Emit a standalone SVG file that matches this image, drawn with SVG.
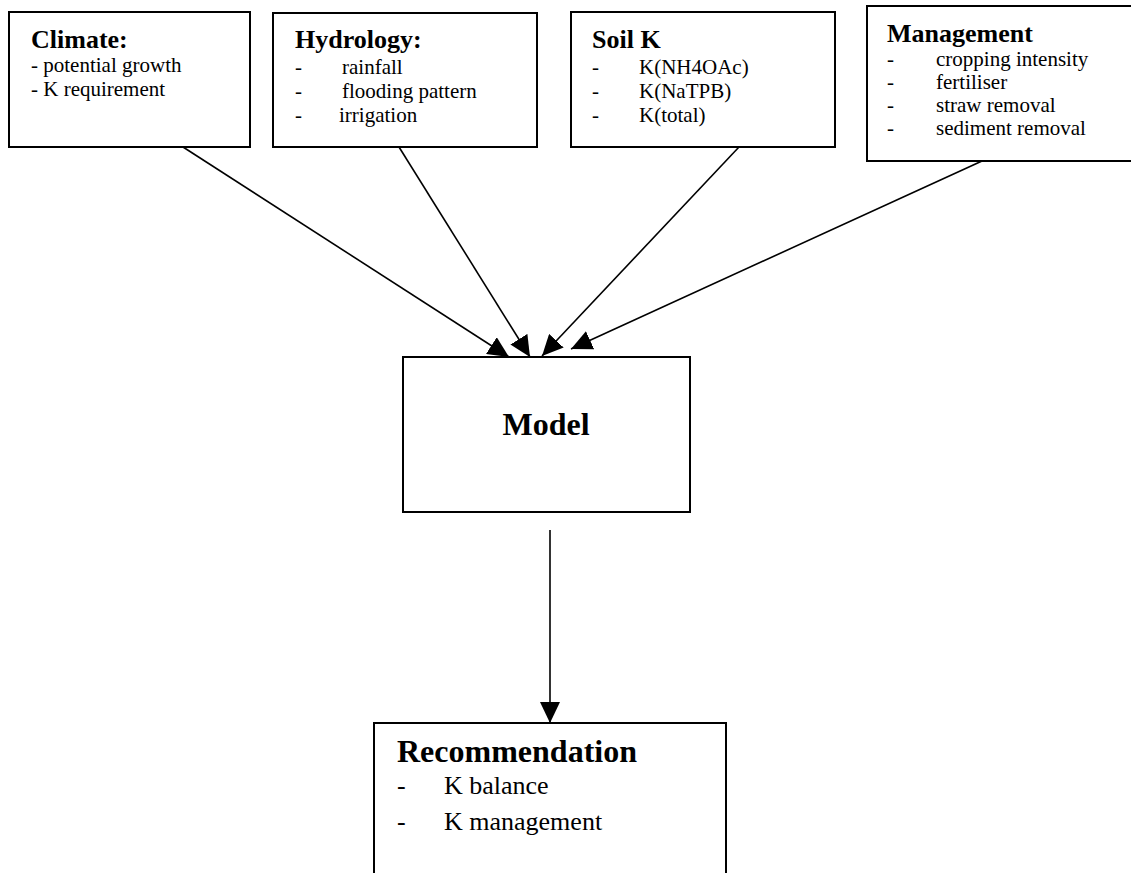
<svg xmlns="http://www.w3.org/2000/svg" width="1131" height="873" viewBox="0 0 1131 873">
  <style>
    .box { fill: #ffffff; stroke: #000000; stroke-width: 2; }
    .head { font-family: "Liberation Serif", "Times New Roman", serif; font-weight: bold; font-size: 26px; fill: #000; }
    .big { font-family: "Liberation Serif", "Times New Roman", serif; font-weight: bold; font-size: 32px; fill: #000; }
    .item { font-family: "Liberation Serif", "Times New Roman", serif; font-size: 21px; fill: #000; }
    .item2 { font-family: "Liberation Serif", "Times New Roman", serif; font-size: 26px; fill: #000; }
    .link { stroke: #000000; stroke-width: 1.6; fill: none; marker-end: url(#arrow); }
  </style>
  <defs>
    <marker id="arrow" markerUnits="userSpaceOnUse" markerWidth="22" markerHeight="20" refX="21" refY="10" orient="auto">
      <path d="M0,0 L21,10 L0,20 z" fill="#000000"/>
    </marker>
  </defs>
  <rect width="1131" height="873" fill="#ffffff"/>

  <!-- input boxes -->
  <g id="climate">
    <rect class="box" x="9" y="12" width="241" height="135"/>
    <text class="head" x="31" y="48">Climate:</text>
    <text class="item" x="31" y="72">- potential growth</text>
    <text class="item" x="31" y="96">- K requirement</text>
  </g>

  <g id="hydrology">
    <rect class="box" x="273" y="13" width="264" height="134"/>
    <text class="head" x="295" y="48">Hydrology:</text>
    <text class="item" x="295" y="74">-</text>
    <text class="item" x="342" y="74">rainfall</text>
    <text class="item" x="295" y="98">-</text>
    <text class="item" x="342" y="98">flooding pattern</text>
    <text class="item" x="295" y="122">-</text>
    <text class="item" x="339" y="122">irrigation</text>
  </g>

  <g id="soil-k">
    <rect class="box" x="571" y="12" width="264" height="135"/>
    <text class="head" x="592" y="48">Soil K</text>
    <text class="item" x="592" y="74">-</text>
    <text class="item" x="639" y="74">K(NH4OAc)</text>
    <text class="item" x="592" y="98">-</text>
    <text class="item" x="639" y="98">K(NaTPB)</text>
    <text class="item" x="592" y="122">-</text>
    <text class="item" x="639" y="122">K(total)</text>
  </g>

  <g id="management">
    <rect class="box" x="867" y="6" width="275" height="155"/>
    <text class="head" x="887" y="42">Management</text>
    <text class="item" x="887" y="66">-</text>
    <text class="item" x="936" y="66">cropping intensity</text>
    <text class="item" x="887" y="89">-</text>
    <text class="item" x="936" y="89">fertiliser</text>
    <text class="item" x="887" y="112">-</text>
    <text class="item" x="936" y="112">straw removal</text>
    <text class="item" x="887" y="135">-</text>
    <text class="item" x="936" y="135">sediment removal</text>
  </g>

  <!-- central model -->
  <g id="model">
    <rect class="box" x="403" y="357" width="287" height="155"/>
    <text class="big" x="546" y="435" text-anchor="middle">Model</text>
  </g>

  <!-- output box, open at the bottom of the page -->
  <g id="recommendation">
    <rect class="box" x="374" y="723" width="352" height="200"/>
    <text class="big" x="397" y="762">Recommendation</text>
    <text class="item2" x="397" y="794">-</text>
    <text class="item2" x="444" y="794">K balance</text>
    <text class="item2" x="397" y="830" font-size="29">-</text>
    <text class="item2" x="444" y="830">K management</text>
  </g>

  <!-- connectors -->
  <g id="connectors">
    <line class="link" x1="183" y1="147" x2="509" y2="357"/>
    <line class="link" x1="399" y1="147" x2="530" y2="357"/>
    <line class="link" x1="739" y1="147" x2="542" y2="356"/>
    <line class="link" x1="982" y1="161" x2="571" y2="349"/>
    <line class="link" x1="550" y1="530" x2="550" y2="723"/>
  </g>
</svg>
